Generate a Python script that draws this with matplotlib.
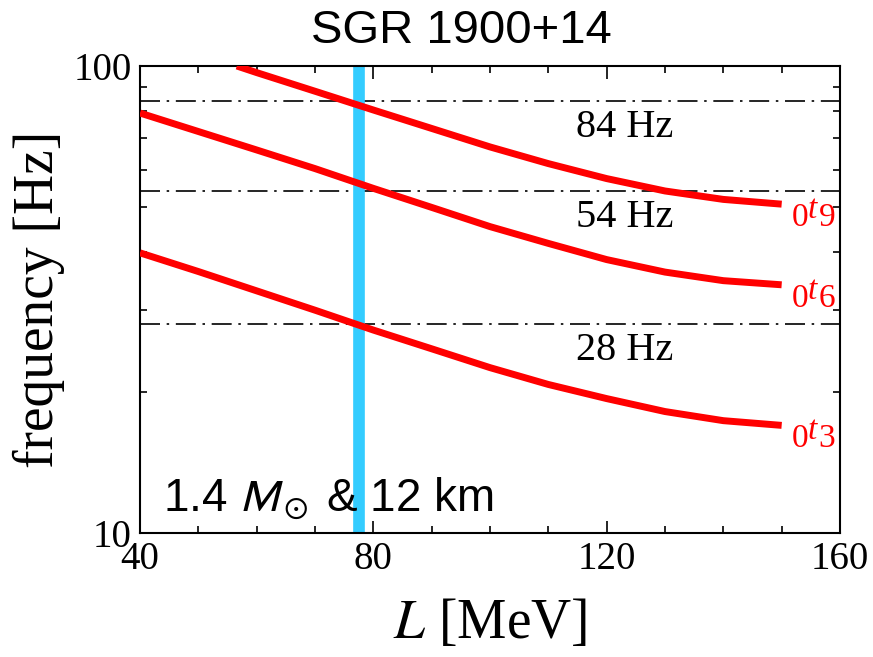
import matplotlib
matplotlib.use("Agg")
import matplotlib.pyplot as plt
from matplotlib.ticker import FixedLocator, NullFormatter
from matplotlib.transforms import offset_copy

plt.rcParams['font.family'] = ['Liberation Serif', 'DejaVu Serif']
plt.rcParams['mathtext.fontset'] = 'stix'

# Torsional oscillation frequencies vs slope parameter L (1.4 Msun, 12 km)
L_t3 = [40, 50, 60, 70, 80, 90, 100, 110, 120, 130, 140, 150]
f_t3 = [39.8, 36.3, 33.0, 30.0, 27.2, 24.8, 22.6, 20.8, 19.4, 18.2, 17.4, 17.0]

L_t6 = [40, 50, 60, 70, 80, 90, 100, 110, 120, 130, 140, 150]
f_t6 = [79.3, 72.4, 66.1, 60.3, 54.7, 49.8, 45.3, 41.7, 38.5, 36.2, 34.7, 34.0]

L_t9 = [56.6, 60, 70, 80, 90, 100, 110, 120, 130, 140, 150]
f_t9 = [100.0, 96.8, 88.3, 80.5, 73.5, 67.1, 61.8, 57.4, 54.0, 51.8, 50.6]

mode_n = ['3', '6', '9']

# Observed QPO frequencies and the selected L value
qpo_freqs = [84, 54, 28]
qpo_labels = ['84 Hz', '54 Hz', '28 Hz']
L_selected = 77.5

x_ticks = [40, 80, 120, 160]
y_ticks = [10, 100]

fig = plt.figure(figsize=(8.73, 6.57), dpi=100)
ax = fig.add_axes([140/873, 1-533/657, 700/873, 467/657])

ax.set_yscale('log')
ax.set_xlim(40, 160)
ax.set_ylim(10, 100)

red = '#ff0000'
curves = [(L_t3, f_t3), (L_t6, f_t6), (L_t9, f_t9)]
for L, f in curves:
    ax.plot(L, f, color=red, lw=5.0, solid_capstyle='butt',
            solid_joinstyle='round', zorder=3)

# mode labels  0t_n  next to each curve end
px = 0.72  # points per pixel at 100 dpi
for (L, f), n in zip(curves, mode_n):
    x0, y0 = L[-1], f[-1]
    pieces = [('0', 'normal', 10, -22), ('t', 'italic', 26, -14), (n, 'normal', 37, -22)]
    for s, style, dx, dy in pieces:
        tr = offset_copy(ax.transData, fig=fig, x=dx * px, y=dy * px, units='points')
        ax.text(x0, y0, s, transform=tr, color=red, fontsize=24, style=style,
                ha='left', va='baseline', zorder=4, clip_on=False)

for fq, lab in zip(qpo_freqs, qpo_labels):
    ax.axhline(fq, color='black', lw=1.2, dashes=(12, 4, 1.5, 4), zorder=2)
    ax.text(123.1, fq * 0.878, lab, fontsize=29, ha='center', va='center', zorder=4)

ax.axvline(L_selected, color='#33ccff', lw=8.4, zorder=2.5)

ax.text(43.9, 11.15, r'1.4 $M_\odot$ & 12 km', family=['Liberation Sans', 'DejaVu Sans'],
        math_fontfamily='stixsans', fontsize=33, ha='left', va='baseline', zorder=5)

ax.xaxis.set_major_locator(FixedLocator(x_ticks))
ax.xaxis.set_minor_locator(FixedLocator(list(range(40, 161, 10))))
ax.yaxis.set_major_locator(FixedLocator(y_ticks))
ax.yaxis.set_minor_locator(FixedLocator(list(range(20, 100, 10))))
ax.yaxis.set_minor_formatter(NullFormatter())
ax.set_xticklabels([str(t) for t in x_ticks])
ax.set_yticklabels([str(t) for t in y_ticks])

ax.tick_params(which='both', direction='in', top=True, right=True, width=1.2, colors='black')
ax.tick_params(which='major', length=9, labelsize=28, pad=6)
ax.tick_params(which='minor', length=5)
for s in ax.spines.values():
    s.set_linewidth(1.5)

ax.set_xlabel(r'$L$ [MeV]', fontsize=40, labelpad=14)
ax.set_ylabel('frequency [Hz]', fontsize=40, labelpad=6)

fig.text(461/873, 1-31/657, 'SGR 1900+14', family=['Liberation Sans', 'DejaVu Sans'],
         fontsize=34, ha='center', va='center')

fig.savefig('out.png', dpi=100)
